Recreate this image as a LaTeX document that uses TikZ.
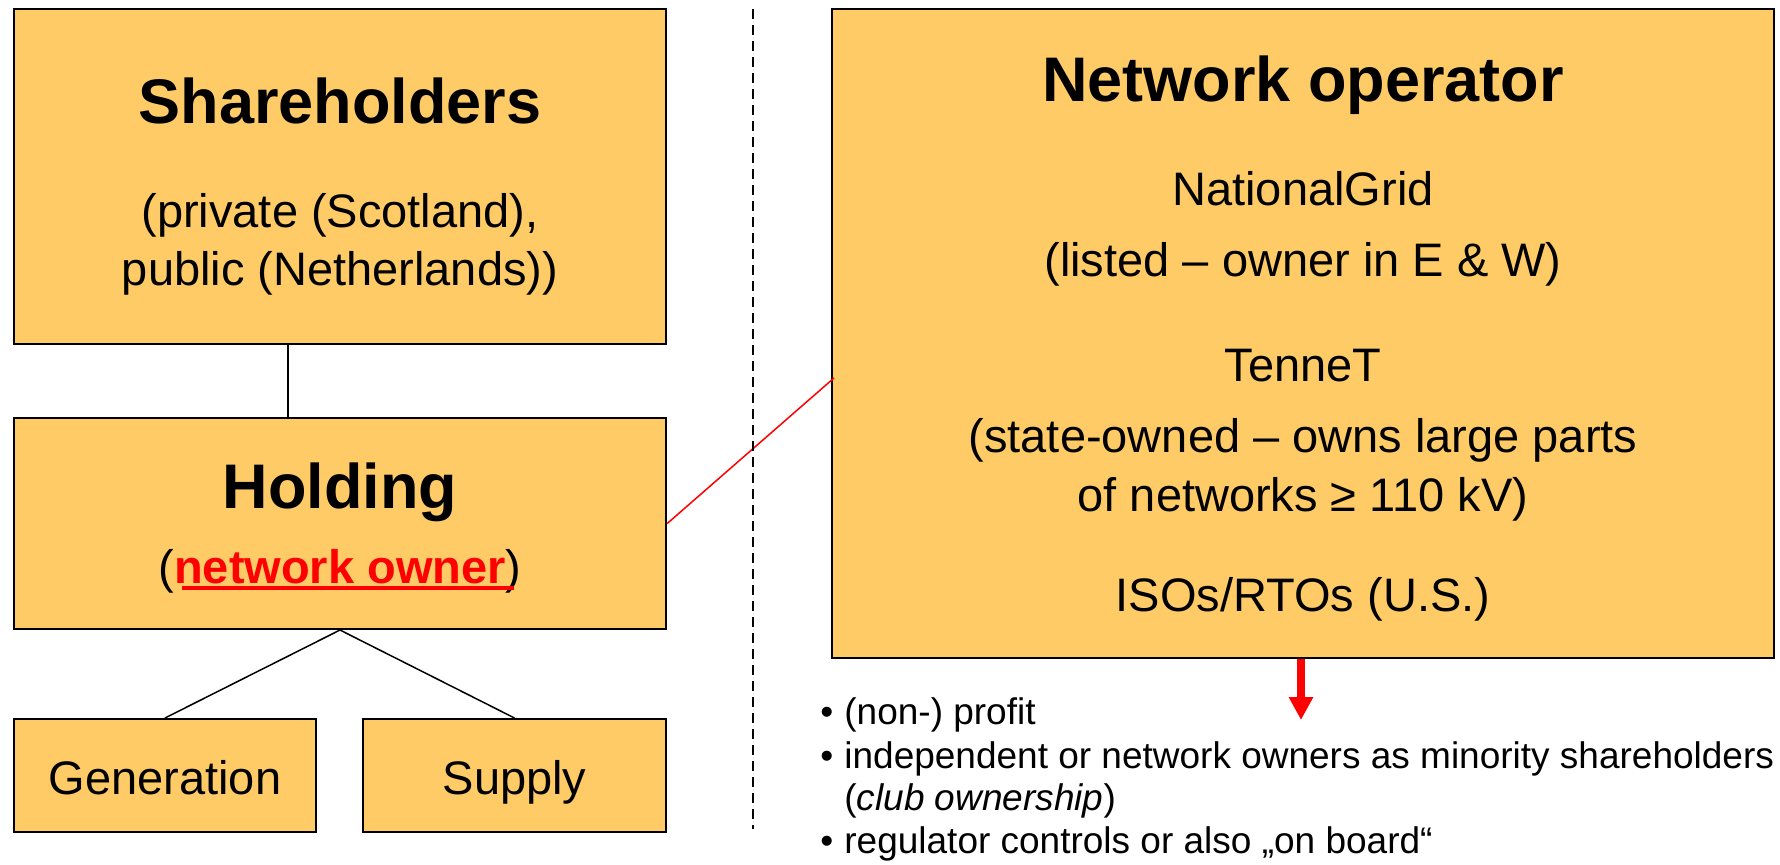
\documentclass[tikz,border=0pt]{standalone}
\usepackage{fontspec}
\setmainfont{Liberation Sans}
\usetikzlibrary{arrows.meta}
\definecolor{boxfill}{RGB}{254,203,103}
\definecolor{redline}{RGB}{255,0,0}
\tikzset{
  box/.style={draw=black, line width=1pt, fill=boxfill, inner sep=0pt, rectangle},
  title/.style={anchor=base, font=\fontsize{31.5}{36}\selectfont\bfseries, inner sep=0pt},
  body/.style={anchor=base, font=\fontsize{23.5}{28}\selectfont, inner sep=0pt},
  bul/.style={anchor=base west, font=\fontsize{18.5}{22}\selectfont, inner sep=0pt},
  dot/.style={anchor=base west, font=\fontsize{18.5}{22}\selectfont, inner sep=0pt},
  conn/.style={draw=black, line width=0.75pt},
}
\begin{document}
\begin{tikzpicture}[x=0.5pt, y=-0.5pt]
\useasboundingbox (0,0) rectangle (1780,864);
% boxes
\node[box, minimum width=326.2pt, minimum height=167.5pt] (sh) at (340,176.5) {};
\node[box, minimum width=326.2pt, minimum height=105.5pt] (ho) at (340,523.5) {};
\node[box, minimum width=151.2pt, minimum height=56.5pt] (ge) at (165,775.5) {};
\node[box, minimum width=151.5pt, minimum height=56.5pt] (su) at (514.5,775.5) {};
\node[box, minimum width=471pt, minimum height=324.5pt] (no) at (1303,333.5) {};
% texts
\node[title] (tsh) at (340,123) {Shareholders};
\node[body] (tsh1) at (340,227) {(private (Scotland),};
\node[body] (tsh2) at (340,285) {public (Netherlands))};
\node[title] (tho) at (340,508) {Holding};
\node[body] (tho1) at (340,583) {(\textcolor{redline}{\textbf{network owner}})};
\node[body] (tge) at (165,794) {Generation};
\node[body] (tsu) at (514.5,794) {Supply};
\node[title] (tno) at (1303,101) {Network operator};
\node[body] (tno1) at (1303,205) {NationalGrid};
\node[body] (tno2) at (1303,276) {(listed – owner in E \& W)};
\node[body] (tno3) at (1303,381) {TenneT};
\node[body] (tno4) at (1303,452) {(state-owned – owns large parts};
\node[body] (tno5) at (1303,511) {of networks ≥ 110 kV)};
\node[body] (tno6) at (1303,611) {ISOs/RTOs (U.S.)};
% underline for network owner
\coordinate (ul1) at (182,588);
\coordinate (ul2) at (514,588);
\draw[redline, line width=2pt] (ul1) -- (ul2);
% bullets
\node[dot] (d1b) at (820,724) {•};
\node[bul] (b1) at (844,724) {(non-) profit};
\node[dot] (d2b) at (820,768) {•};
\node[bul] (b2) at (844,768) {independent or network owners as minority shareholders};
\node[bul] (b3) at (844,810) {(\textit{club ownership})};
\node[dot] (d4b) at (820,853) {•};
\node[bul] (b4) at (844,853) {regulator controls or also „on board“};
% connectors
\coordinate (shb) at (288,344);
\coordinate (hot) at (288,418);
\draw[conn] (shb) -- (hot);
\draw[conn] (ho.south) -- (ge.north);
\draw[conn] (ho.south) -- (su.north);
\coordinate (noW) at (834,378);
\draw[redline, line width=0.75pt] (ho.east) -- (noW);
\coordinate (arrStart) at (1301,659);
\coordinate (arrEnd) at (1301,720);
\draw[redline, line width=4pt, -{Triangle[width=11.5pt,length=11.5pt]}] (arrStart) -- (arrEnd);
% dashed separator
\coordinate (ds1) at (753,9);
\coordinate (ds2) at (753,829);
\draw[black, line width=0.6pt, dash pattern=on 5pt off 3pt] (ds1) -- (ds2);
\end{tikzpicture}
\end{document}
